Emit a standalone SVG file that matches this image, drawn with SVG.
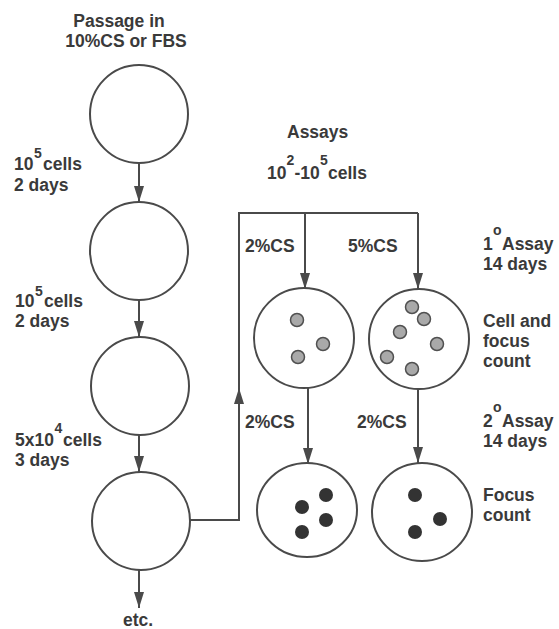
<svg xmlns="http://www.w3.org/2000/svg" width="559" height="629" viewBox="0 0 559 629">
<style>
  text { font-family: "Liberation Sans", Arial, Helvetica, sans-serif; font-weight: bold; font-size: 17.5px; fill: #3a3a3a; }
  .sup { font-size: 14px; }
  .mid { text-anchor: middle; }
  .flask { fill: none; stroke: #4a4a4a; stroke-width: 2; }
  .line { fill: none; stroke: #4a4a4a; stroke-width: 2; }
  .cell { fill: #a9a9a9; stroke: #505050; stroke-width: 1.5; }
  .focus { fill: #333333; stroke: none; }
</style>
<defs>
  <marker id="ah" markerUnits="userSpaceOnUse" markerWidth="16" markerHeight="10" viewBox="0 0 16 10" refX="16" refY="5" orient="auto">
    <path d="M0,0 L16,5 L0,10 Z" fill="#4a4a4a"/>
  </marker>
</defs>
<rect width="559" height="629" fill="#ffffff"/>

<g id="connectors">
  <line class="line" x1="139" y1="163" x2="139" y2="202" marker-end="url(#ah)"/>
  <line class="line" x1="139" y1="300" x2="139" y2="337" marker-end="url(#ah)"/>
  <line class="line" x1="139" y1="435" x2="139" y2="472" marker-end="url(#ah)"/>
  <line class="line" x1="139" y1="570" x2="139" y2="608" marker-end="url(#ah)"/>
  <polyline class="line" points="190,520 239,520 239,213 418,213"/>
  <line class="line" x1="239" y1="420" x2="239" y2="388" marker-end="url(#ah)"/>
  <line class="line" x1="305" y1="213" x2="305" y2="289" marker-end="url(#ah)"/>
  <line class="line" x1="418" y1="213" x2="418" y2="289" marker-end="url(#ah)"/>
  <line class="line" x1="308" y1="388" x2="308" y2="464" marker-end="url(#ah)"/>
  <line class="line" x1="418" y1="389" x2="418" y2="463" marker-end="url(#ah)"/>
</g>

<g id="passage-label">
  <text class="mid" x="119" y="27">Passage in</text>
  <text class="mid" x="126" y="47">10%CS or FBS</text>
</g>

<g id="culture-1"><circle class="flask" cx="139" cy="114" r="49"/></g>
<g id="culture-2"><circle class="flask" cx="139" cy="251" r="49"/></g>
<g id="culture-3"><circle class="flask" cx="140" cy="386" r="49"/></g>
<g id="culture-4"><circle class="flask" cx="141" cy="521" r="49"/></g>

<g id="label-passage-1">
  <text x="14" y="170">10</text><text class="sup" x="34" y="158">5</text><text x="43" y="170">cells</text>
  <text x="14" y="191">2 days</text>
</g>
<g id="label-passage-2">
  <text x="15" y="307">10</text><text class="sup" x="35" y="296">5</text><text x="44" y="307">cells</text>
  <text x="15" y="327">2 days</text>
</g>
<g id="label-passage-3">
  <text x="15" y="446">5x10</text><text class="sup" x="54.5" y="433">4</text><text x="63" y="446">cells</text>
  <text x="15" y="466">3 days</text>
</g>
<g id="label-etc">
  <text class="mid" x="138" y="626">etc.</text>
</g>

<g id="label-assays">
  <text x="287" y="138">Assays</text>
  <text x="267" y="179">10</text><text class="sup" x="286.5" y="165">2</text><text x="294.5" y="179">-10</text><text class="sup" x="320" y="165">5</text><text x="328" y="179">cells</text>
</g>

<g id="label-media">
  <text x="245" y="252">2%CS</text>
  <text x="348" y="252">5%CS</text>
  <text x="245" y="428">2%CS</text>
  <text x="357" y="428">2%CS</text>
</g>

<g id="dish-2cs-primary">
  <circle class="flask" cx="304" cy="338" r="50"/>
  <circle class="cell" cx="297" cy="320" r="6.5"/>
  <circle class="cell" cx="323" cy="344" r="6.5"/>
  <circle class="cell" cx="298" cy="357" r="6.5"/>
</g>
<g id="dish-5cs-primary">
  <circle class="flask" cx="419" cy="339" r="50"/>
  <circle class="cell" cx="412" cy="307" r="6.5"/>
  <circle class="cell" cx="424" cy="319" r="6.5"/>
  <circle class="cell" cx="400" cy="332" r="6.5"/>
  <circle class="cell" cx="437" cy="344" r="6.5"/>
  <circle class="cell" cx="387" cy="357" r="6.5"/>
  <circle class="cell" cx="412" cy="369" r="6.5"/>
</g>
<g id="dish-2cs-secondary">
  <ellipse class="flask" cx="307" cy="510" rx="50" ry="47"/>
  <circle class="focus" cx="326" cy="495" r="7"/>
  <circle class="focus" cx="302" cy="507" r="7"/>
  <circle class="focus" cx="326" cy="520" r="7"/>
  <circle class="focus" cx="302" cy="532" r="7"/>
</g>
<g id="dish-5cs-secondary">
  <ellipse class="flask" cx="422" cy="512" rx="50" ry="49"/>
  <circle class="focus" cx="415" cy="495" r="7"/>
  <circle class="focus" cx="440" cy="519" r="7"/>
  <circle class="focus" cx="415" cy="532" r="7"/>
</g>

<g id="label-primary-assay">
  <text x="483" y="250">1</text><text class="sup" x="493" y="235">o</text><text x="502" y="250">Assay</text>
  <text x="483" y="270">14 days</text>
</g>
<g id="label-cell-focus-count">
  <text x="483" y="327">Cell and</text>
  <text x="483" y="347">focus</text>
  <text x="483" y="367">count</text>
</g>
<g id="label-secondary-assay">
  <text x="483" y="427">2</text><text class="sup" x="493" y="412">o</text><text x="502" y="427">Assay</text>
  <text x="483" y="447">14 days</text>
</g>
<g id="label-focus-count">
  <text x="483" y="501">Focus</text>
  <text x="483" y="521">count</text>
</g>
</svg>
